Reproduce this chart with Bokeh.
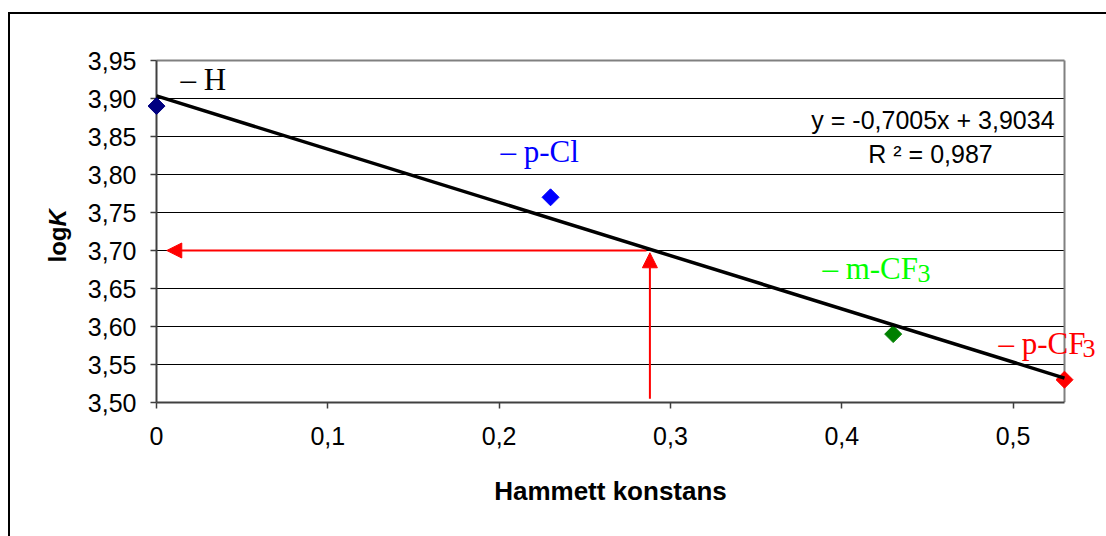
import math
import numpy as np
from bokeh.plotting import figure
from bokeh.models import Range1d, FixedTicker, Label, Arrow, NormalHead
from bokeh.embed import file_html
from bokeh.resources import INLINE

# ---- data ----
substituents = ["– H", "– p-Cl", "– m-CF", "– p-CF"]
subscripts = ["", "", "3", "3"]
sigma = [0.0, 0.23, 0.43, 0.53]
logK = [3.89, 3.77, 3.59, 3.53]
marker_colors = ["#000080", "#0000FF", "#008000", "#FF0000"]
label_colors = ["#000000", "#0000FF", "#00FF00", "#FF0000"]

y_ticks = [3.50, 3.55, 3.60, 3.65, 3.70, 3.75, 3.80, 3.85, 3.90, 3.95]
y_tick_labels = ["3,50", "3,55", "3,60", "3,65", "3,70", "3,75", "3,80", "3,85", "3,90", "3,95"]
x_ticks = [0.0, 0.1, 0.2, 0.3, 0.4, 0.5]
x_tick_labels = ["0", "0,1", "0,2", "0,3", "0,4", "0,5"]

x_min, x_max = 0.0, 0.53
y_min, y_max = 3.50, 3.95

read_sigma = 0.288      # sigma
read_logK = 3.70        # logK
arrow_base_logK = 3.505
arrow_tip_logK = 3.697
arrow_h_start = 0.286
arrow_h_tip = 0.006

# regression
slope, intercept = np.polyfit(sigma, logK, 1)
pred = np.polyval([slope, intercept], sigma)
r2 = 1 - np.sum((np.array(logK) - pred) ** 2) / np.sum((np.array(logK) - np.mean(logK)) ** 2)
eq_text = "y = %sx + %s" % (("%.4f" % slope).replace(".", ","), ("%.4f" % intercept).replace(".", ","))
r2_text = "R ² = %s" % ("%.3f" % r2).replace(".", ",")

# ---- layout ----
PX_PER_X = 1713.2
PX_PER_Y = 760.0
pad_px = 10
pad_x = pad_px / PX_PER_X
pad_y = 2 / PX_PER_Y
W, H = 1098, 524
frame_w = 928
frame_h = 344
mb_left, mb_top = 136, 44

p = figure(width=W, height=H, output_backend="svg", toolbar_location=None,
           x_range=Range1d(x_min - pad_x, x_max + pad_x), y_range=Range1d(y_min, y_max + pad_y),
           min_border_left=mb_left, min_border_top=mb_top,
           min_border_right=W - mb_left - frame_w, min_border_bottom=H - mb_top - frame_h,
           styles={"margin-left": "8px", "margin-top": "12px",
                   "border-left": "2px solid black", "border-top": "2px solid black"})
p.background_fill_color = "white"
p.border_fill_color = "white"
p.outline_line_color = None

p.xgrid.visible = False
p.ygrid.grid_line_color = "black"
p.ygrid.grid_line_width = 1
p.ygrid.ticker = FixedTicker(ticks=y_ticks[:-1])
p.ygrid.cross_bounds = (x_min, x_max)

for ax in (p.xaxis[0], p.yaxis[0]):
    ax.axis_line_color = "#404040"
    ax.axis_line_width = 2
    ax.major_tick_line_color = "#404040"
    ax.major_tick_line_width = 1.5
    ax.major_tick_out = 6
    ax.major_tick_in = 0
    ax.minor_tick_line_color = None
    ax.minor_tick_out = 0
    ax.minor_tick_in = 0
    ax.major_label_text_font = "Liberation Sans"
    ax.major_label_text_font_size = "25px"
    ax.major_label_text_color = "black"

p.xaxis.major_label_standoff = 18
p.yaxis.ticker = FixedTicker(ticks=y_ticks)
p.yaxis.major_label_overrides = {t: l for t, l in zip(y_ticks, y_tick_labels)}
# y axis sits at the frame edge, pad_px left of sigma = 0: shift ticks to sit left of sigma = 0
p.yaxis.axis_line_color = None
p.yaxis.major_tick_out = -(pad_px - 6)
p.yaxis.major_tick_in = pad_px
p.yaxis.major_label_standoff = 10
p.xaxis.ticker = FixedTicker(ticks=x_ticks)
p.xaxis.major_label_overrides = {t: l for t, l in zip(x_ticks, x_tick_labels)}
p.xaxis.bounds = (x_min, x_max)

p.xaxis.axis_label = "Hammett konstans"
p.xaxis.axis_label_text_font = "Liberation Sans"
p.xaxis.axis_label_text_font_style = "bold"
p.xaxis.axis_label_text_font_size = "26px"
p.xaxis.axis_label_text_color = "black"
p.xaxis.axis_label_standoff = 28

# plot-area border (top and right) and y axis line at sigma = 0
p.line([x_min, x_max], [y_max, y_max], line_color="#808080", line_width=2)
p.line([x_max, x_max], [y_min, y_max], line_color="#808080", line_width=2)
p.line([x_min, x_min], [y_min, y_max], line_color="#404040", line_width=2)

# points
p.scatter(sigma, logK, marker="square", angle=math.pi / 4, size=12,
          fill_color=marker_colors, line_color=marker_colors, level="overlay")

# trend line
xs = np.array([min(sigma), max(sigma)])
p.line(xs, slope * xs + intercept, line_color="black", line_width=3.5, level="overlay")

# arrows
head = dict(size=15, fill_color="red", line_color="red")
p.add_layout(Arrow(end=NormalHead(**head), x_start=read_sigma, y_start=arrow_base_logK,
                   x_end=read_sigma, y_end=arrow_tip_logK, line_color="red", line_width=2))
p.add_layout(Arrow(end=NormalHead(**head), x_start=arrow_h_start, y_start=read_logK,
                   x_end=arrow_h_tip, y_end=read_logK, line_color="red", line_width=2))

# substituent labels
label_pos = [(0.014, 3.9092), (0.2008, 3.8145), (0.3887, 3.6605), (0.4915, 3.5618)]
sub_off = [0, 0, 95, 84]
places = ["center", "center", "center", "above"]
sub_places = ["center", "center", "center", "below"]
for (lx, ly), txt, sub, col, so, pl, spl in zip(label_pos, substituents, subscripts,
                                                 label_colors, sub_off, places, sub_places):
    p.add_layout(Label(x=lx, y=ly, y_offset=12, text=txt, text_color=col,
                       text_font="Liberation Serif", text_font_size="31px",
                       text_baseline="alphabetic", text_align="left"), pl)
    if sub:
        p.add_layout(Label(x=lx, y=ly, x_offset=so, y_offset=7, text=sub, text_color=col,
                           text_font="Liberation Serif", text_font_size="26px",
                           text_baseline="alphabetic", text_align="left"), spl)

# equation
p.add_layout(Label(x=0.5242, y=3.8592, y_offset=10, text=eq_text, text_font="Liberation Sans",
                   text_color="black", text_font_size="25px", text_align="right",
                   text_baseline="alphabetic"))
p.add_layout(Label(x=0.4518, y=3.8132, y_offset=10, text=r2_text, text_font="Liberation Sans",
                   text_color="black", text_font_size="25px", text_align="center",
                   text_baseline="alphabetic"))

# y axis label logK (log bold, K bold italic)
p.add_layout(Label(x=-0.0578, y=3.6842, text="log", angle=math.pi / 2, text_font="Liberation Sans",
                   text_color="black", text_font_size="24px", text_font_style="bold",
                   text_align="left", text_baseline="middle"), "left")
p.add_layout(Label(x=-0.0578, y=3.7316, text="K", angle=math.pi / 2, text_font="Liberation Sans",
                   text_color="black", text_font_size="24px", text_font_style="bold italic",
                   text_align="left", text_baseline="middle"), "left")

open("out.html", "w").write(file_html(p, INLINE))
